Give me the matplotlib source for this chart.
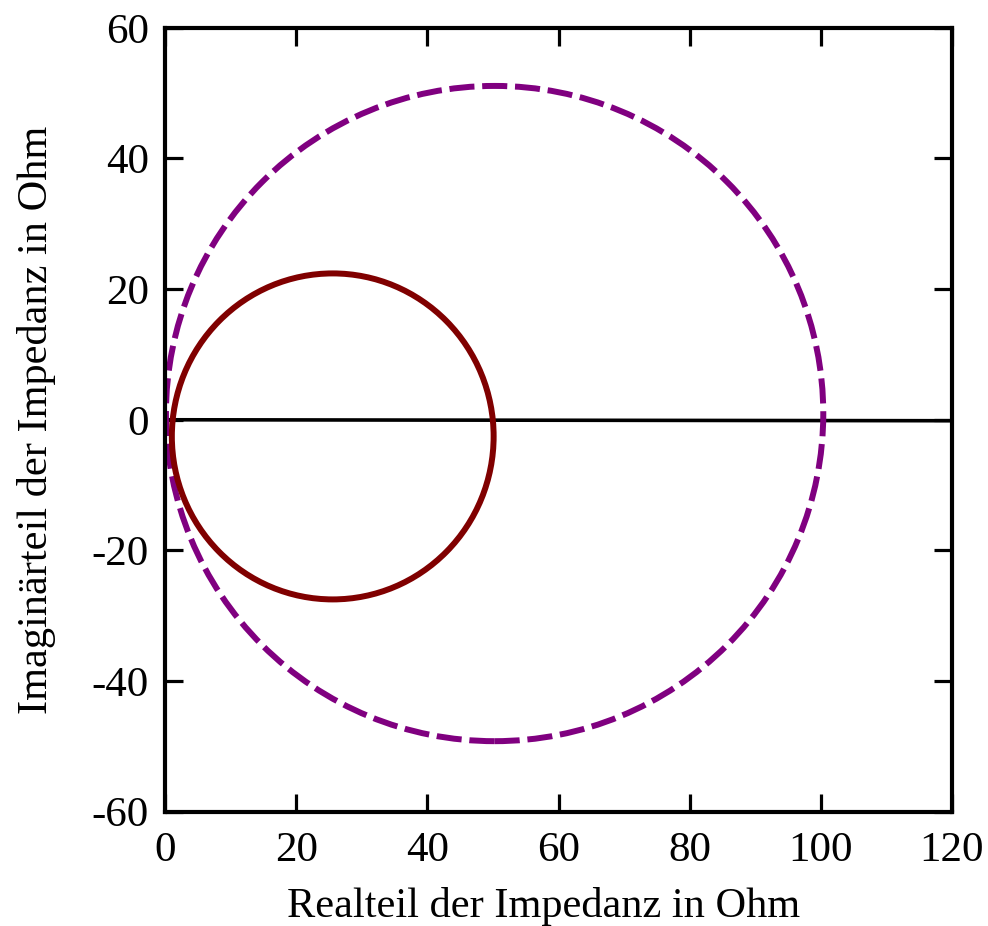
import matplotlib
matplotlib.use("Agg")
import matplotlib.pyplot as plt
from matplotlib.patches import Ellipse

plt.rcParams['font.family'] = ['Liberation Serif', 'DejaVu Serif']

# extents of the two impedance loci (Ohm)
# [left, right, bottom, top]
solid_ext = [1.0, 50.1, -27.5, 22.4]
dashed_ext = [0.1, 100.4, -49.2, 51.1]

# zero line
zero_x = [0, 120]
zero_y = [0, -0.15]

x_ticks = [0, 20, 40, 60, 80, 100, 120]
y_ticks = [-60, -40, -20, 0, 20, 40, 60]


def ellipse_from(ext, **kw):
    cx = (ext[0] + ext[1]) / 2
    cy = (ext[2] + ext[3]) / 2
    return Ellipse((cx, cy), ext[1] - ext[0], ext[3] - ext[2], fill=False, **kw)


fig = plt.figure(figsize=(9.88, 9.26), dpi=100)
ax = fig.add_axes([0.1673, 0.1234, 0.7960, 0.8466])

ax.plot(zero_x, zero_y, color='black', lw=2.6, zorder=1)
ax.add_patch(ellipse_from(dashed_ext, edgecolor='#800080', lw=4.3,
                          linestyle=(0, (4.2, 1.3)), zorder=2))
ax.add_patch(ellipse_from(solid_ext, edgecolor='#800000', lw=4.3, zorder=3))

ax.set_xlim(0, 120)
ax.set_ylim(-60, 60)
ax.set_xticks(x_ticks)
ax.set_yticks(y_ticks)
ax.set_xticklabels([str(v) for v in x_ticks])
ax.set_yticklabels([str(v) for v in y_ticks])
ax.tick_params(direction='in', length=13, width=2.3, labelsize=31,
               top=True, right=True)
ax.tick_params(axis='x', pad=14)
ax.tick_params(axis='y', pad=12)
for s in ax.spines.values():
    s.set_linewidth(3)

ax.set_xlabel('Realteil der Impedanz in Ohm', fontsize=30.5)
ax.set_ylabel('Imaginärteil der Impedanz in Ohm', fontsize=30.5)
ax.xaxis.set_label_coords(0.481, -0.096)
ax.yaxis.set_label_coords(-0.139, 0.5)

fig.savefig('out.png', dpi=100)
